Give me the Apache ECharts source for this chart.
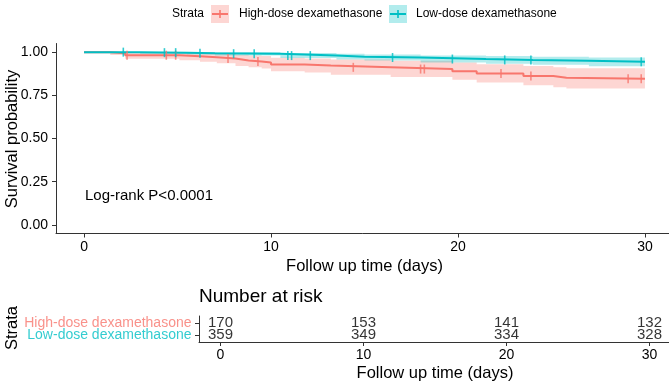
<!DOCTYPE html>
<html>
<head>
<meta charset="utf-8">
<script src="https://cdn.jsdelivr.net/npm/echarts@6/dist/echarts.min.js"></script>
<style>html,body{margin:0;padding:0;background:#fff}#c{width:669px;height:384px}</style>
</head>
<body>
<div id="c"></div>
<script>
// ---- Data ----
const groupNames = ['High-dose dexamethasone', 'Low-dose dexamethasone'];
const highT  = [0, 1.4, 2.2, 5.1, 6.2, 7.1, 8.1, 8.8, 9.5, 10.0, 11.8, 13.2, 16.4, 19.7, 21.0, 23.5, 25.1, 25.8, 30];
const highS  = [1, 0.994, 0.982, 0.976, 0.970, 0.963, 0.952, 0.946, 0.940, 0.928, 0.922, 0.912, 0.902, 0.889, 0.876, 0.862, 0.852, 0.846, 0.846];
const highLo = [1, 0.983, 0.962, 0.953, 0.945, 0.935, 0.920, 0.912, 0.905, 0.890, 0.882, 0.869, 0.856, 0.840, 0.824, 0.808, 0.796, 0.790, 0.790];
const highUp = [1, 1, 1, 0.999, 0.996, 0.992, 0.985, 0.981, 0.977, 0.968, 0.963, 0.957, 0.950, 0.940, 0.930, 0.920, 0.912, 0.907, 0.907];
const lowT   = [0, 3.0, 5.5, 7.0, 10.5, 13.5, 15.0, 18.0, 21.5, 24.0, 27.0, 30];
const lowS   = [1, 0.997, 0.994, 0.991, 0.980, 0.974, 0.969, 0.960, 0.955, 0.950, 0.944, 0.944];
const lowLo  = [1, 0.991, 0.986, 0.981, 0.966, 0.957, 0.951, 0.940, 0.933, 0.927, 0.919, 0.919];
const lowUp  = [1, 1, 1, 1, 0.995, 0.991, 0.987, 0.980, 0.977, 0.973, 0.969, 0.969];
const highCensor = [2.3, 4.4, 4.9, 7.7, 9.3, 14.4, 18.0, 18.2, 22.3, 23.9, 29.1, 29.8];
const lowCensor  = [2.1, 4.3, 4.9, 6.2, 8.0, 9.1, 10.9, 11.1, 12.1, 16.5, 19.7, 22.5, 23.9, 29.8];
const xTicks = [0, 10, 20, 30];
const yTicks = [0, 0.25, 0.5, 0.75, 1];
const riskTimes = [0, 10, 20, 30];
const highRisk = [170, 153, 141, 132];
const lowRisk  = [359, 349, 334, 328];
const pText = 'Log-rank P<0.0001';

// ---- helpers ----
const RED = '#F8766D', TEAL = '#00BFC4';
const RED_F = 'rgba(248,118,109,0.3)', TEAL_F = 'rgba(0,191,196,0.3)';
const FONT = '"Liberation Sans", Arial, sans-serif';
function pairs(t, v) { return t.map((x, i) => [x, v[i]]); }
function stepAt(t, s, x) { let v = s[0]; for (let i = 0; i < t.length; i++) { if (t[i] <= x) v = s[i]; } return v; }
function bandSeries(t, lo, up, color) {
  return {
    type: 'custom', xAxisIndex: 0, yAxisIndex: 0, silent: true, z: 1, data: [0],
    renderItem: function (params, api) {
      const pts = [];
      const n = t.length;
      for (let i = 0; i < n; i++) {
        pts.push(api.coord([t[i], up[i]]));
        if (i < n - 1) pts.push(api.coord([t[i + 1], up[i]]));
      }
      for (let i = n - 1; i >= 0; i--) {
        if (i < n - 1) pts.push(api.coord([t[i + 1], lo[i]]));
        pts.push(api.coord([t[i], lo[i]]));
      }
      return { type: 'polygon', shape: { points: pts }, style: { fill: color } };
    }
  };
}
function lineSeries(t, s, color) {
  return { type: 'line', xAxisIndex: 0, yAxisIndex: 0, step: 'end', symbol: 'none', silent: true,
    lineStyle: { color: color, width: 2 }, data: pairs(t, s), z: 3 };
}
function censorSeries(ct, t, s, color) {
  return { type: 'scatter', xAxisIndex: 0, yAxisIndex: 0, symbol: 'rect', symbolSize: [1.6, 9], silent: true,
    itemStyle: { color: color }, data: ct.map(x => [x, stepAt(t, s, x)]), z: 4 };
}
function riskSeries(vals, row) {
  return { type: 'scatter', xAxisIndex: 1, yAxisIndex: 1, symbol: 'circle', symbolSize: 1, silent: true,
    itemStyle: { color: 'transparent' },
    label: { show: true, position: 'inside', formatter: p => String(p.value[2]), color: '#000', fontSize: 15, fontFamily: FONT },
    data: riskTimes.map((x, i) => [x, row, vals[i]]), z: 5 };
}
function rowLabelSeries(name, row, color) {
  return { type: 'scatter', xAxisIndex: 1, yAxisIndex: 1, symbol: 'circle', symbolSize: 1, silent: true,
    itemStyle: { color: 'transparent' },
    label: { show: true, position: 'left', distance: 7, formatter: name, color: color, fontSize: 14, fontFamily: FONT },
    data: [[-1.5, row]], z: 5 };
}
const axisCol = '#333333';

const chart = echarts.init(document.getElementById('c'), null, { renderer: 'canvas' });
const legendKey = (x, fill, col) => ([
  { type: 'rect', shape: { x: x, y: 5, width: 18, height: 18 }, style: { fill: fill } },
  { type: 'line', shape: { x1: x + 1, y1: 14, x2: x + 17, y2: 14 }, style: { stroke: col, lineWidth: 2 } },
  { type: 'line', shape: { x1: x + 9, y1: 10, x2: x + 9, y2: 18 }, style: { stroke: col, lineWidth: 1.6 } }
]);
chart.setOption({
  animation: false,
  backgroundColor: '#fff',
  grid: [
    { left: 56, top: 43.5, width: 617, height: 190, outerBoundsMode: 'none', containLabel: false },
    { left: 199, top: 316, width: 472, height: 26, outerBoundsMode: 'none', containLabel: false }
  ],
  xAxis: [
    { type: 'value', gridIndex: 0, min: -1.5, max: 31.5,
      axisLine: { show: true, onZero: false, lineStyle: { color: axisCol, width: 1 } },
      axisTick: { show: true, length: 4, customValues: xTicks, lineStyle: { color: axisCol } },
      axisLabel: { customValues: xTicks, color: '#000', fontSize: 14, fontFamily: FONT, margin: 7 },
      splitLine: { show: false },
      name: 'Follow up time (days)', nameLocation: 'middle', nameGap: 24,
      nameTextStyle: { color: '#000', fontSize: 16.5, fontFamily: FONT } },
    { type: 'value', gridIndex: 1, min: -1.5, max: 31.5,
      axisLine: { show: true, onZero: false, lineStyle: { color: axisCol, width: 1 } },
      axisTick: { show: true, length: 4, customValues: xTicks, lineStyle: { color: axisCol } },
      axisLabel: { customValues: xTicks, color: '#000', fontSize: 14, fontFamily: FONT, margin: 6 },
      splitLine: { show: false },
      name: 'Follow up time (days)', nameLocation: 'middle', nameGap: 23,
      nameTextStyle: { color: '#000', fontSize: 16.5, fontFamily: FONT } }
  ],
  yAxis: [
    { type: 'value', gridIndex: 0, min: -0.05, max: 1.05,
      axisLine: { show: true, onZero: false, lineStyle: { color: axisCol, width: 1 } },
      axisTick: { show: true, length: 4, customValues: yTicks, lineStyle: { color: axisCol } },
      axisLabel: { customValues: yTicks, color: '#000', fontSize: 14, fontFamily: FONT, margin: 8, formatter: v => v.toFixed(2) },
      splitLine: { show: false } },
    { type: 'value', gridIndex: 1, min: 0.4, max: 2.6,
      axisLine: { show: true, onZero: false, lineStyle: { color: axisCol, width: 1 } },
      axisTick: { show: true, length: 4, customValues: [1, 2], lineStyle: { color: axisCol } },
      axisLabel: { show: false },
      splitLine: { show: false } }
  ],
  series: [
    bandSeries(highT, highLo, highUp, RED_F),
    bandSeries(lowT, lowLo, lowUp, TEAL_F),
    lineSeries(highT, highS, RED),
    lineSeries(lowT, lowS, TEAL),
    censorSeries(highCensor, highT, highS, RED),
    censorSeries(lowCensor, lowT, lowS, TEAL),
    riskSeries(highRisk, 2),
    riskSeries(lowRisk, 1),
    rowLabelSeries(groupNames[0], 2, RED),
    rowLabelSeries(groupNames[1], 1, TEAL)
  ],
  graphic: [
    { type: 'text', left: 85, top: 188, style: { text: pText, fill: '#000', font: '15px ' + FONT } },
    { type: 'text', x: 12, y: 139, rotation: Math.PI / 2,
      style: { text: 'Survival probability', fill: '#000', font: '16.5px ' + FONT, textAlign: 'center', textVerticalAlign: 'middle' } },
    { type: 'text', left: 172, top: 8, style: { text: 'Strata', fill: '#000', font: '12px ' + FONT } },
    ...legendKey(211, RED_F, RED),
    { type: 'text', left: 239, top: 8, style: { text: groupNames[0], fill: '#000', font: '12px ' + FONT } },
    ...legendKey(389, TEAL_F, TEAL),
    { type: 'text', left: 416, top: 8, style: { text: groupNames[1], fill: '#000', font: '12px ' + FONT } },
    { type: 'text', left: 199, top: 287, style: { text: 'Number at risk', fill: '#000', font: '19px ' + FONT } },
    { type: 'text', x: 12, y: 328, rotation: Math.PI / 2,
      style: { text: 'Strata', fill: '#000', font: '16.5px ' + FONT, textAlign: 'center', textVerticalAlign: 'middle' } }
  ]
});
</script>
</body>
</html>
